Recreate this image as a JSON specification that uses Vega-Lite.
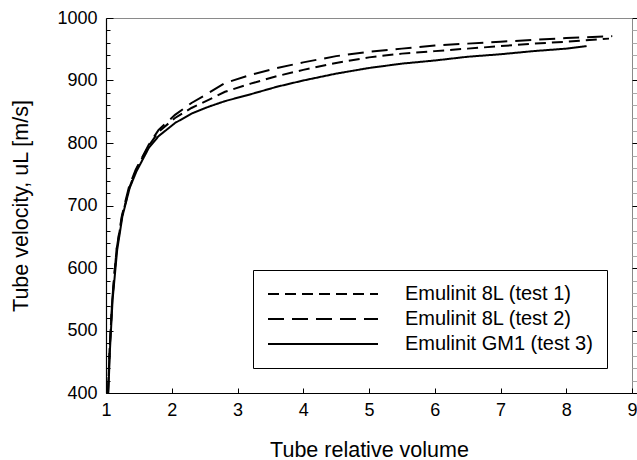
{
  "$schema": "https://vega.github.io/schema/vega-lite/v6.json",
  "width": 526,
  "height": 375,
  "autosize": {"type": "none"},
  "padding": {"left": 106, "top": 18, "right": 5, "bottom": 67},
  "background": "white",
  "config": {
    "font": "Liberation Sans",
    "view": {"stroke": "#8a8a8a", "strokeWidth": 1},
    "axis": {"grid": false, "domainColor": "black", "tickColor": "black", "labelColor": "black", "titleColor": "black", "labelFont": "Liberation Sans", "titleFont": "Liberation Sans", "titleFontWeight": "normal"}
  },
  "data": {"values": [
    {"s": "Emulinit 8L (test 1)", "v": 1.03, "u": 400},
    {"s": "Emulinit 8L (test 1)", "v": 1.055, "u": 469},
    {"s": "Emulinit 8L (test 1)", "v": 1.095, "u": 549},
    {"s": "Emulinit 8L (test 1)", "v": 1.16, "u": 629},
    {"s": "Emulinit 8L (test 1)", "v": 1.245, "u": 683},
    {"s": "Emulinit 8L (test 1)", "v": 1.36, "u": 730},
    {"s": "Emulinit 8L (test 1)", "v": 1.46, "u": 757},
    {"s": "Emulinit 8L (test 1)", "v": 1.56, "u": 778},
    {"s": "Emulinit 8L (test 1)", "v": 1.66, "u": 797},
    {"s": "Emulinit 8L (test 1)", "v": 1.8, "u": 818},
    {"s": "Emulinit 8L (test 1)", "v": 2.05, "u": 840},
    {"s": "Emulinit 8L (test 1)", "v": 2.3, "u": 856},
    {"s": "Emulinit 8L (test 1)", "v": 2.56, "u": 869},
    {"s": "Emulinit 8L (test 1)", "v": 2.81, "u": 882},
    {"s": "Emulinit 8L (test 1)", "v": 3.2, "u": 895},
    {"s": "Emulinit 8L (test 1)", "v": 3.6, "u": 907},
    {"s": "Emulinit 8L (test 1)", "v": 4.0, "u": 917},
    {"s": "Emulinit 8L (test 1)", "v": 4.5, "u": 928},
    {"s": "Emulinit 8L (test 1)", "v": 5.0, "u": 937},
    {"s": "Emulinit 8L (test 1)", "v": 5.5, "u": 943},
    {"s": "Emulinit 8L (test 1)", "v": 6.0, "u": 947},
    {"s": "Emulinit 8L (test 1)", "v": 6.5, "u": 951},
    {"s": "Emulinit 8L (test 1)", "v": 7.0, "u": 955},
    {"s": "Emulinit 8L (test 1)", "v": 7.5, "u": 959},
    {"s": "Emulinit 8L (test 1)", "v": 8.0, "u": 962},
    {"s": "Emulinit 8L (test 1)", "v": 8.65, "u": 967},
    {"s": "Emulinit 8L (test 2)", "v": 1.03, "u": 400},
    {"s": "Emulinit 8L (test 2)", "v": 1.055, "u": 469},
    {"s": "Emulinit 8L (test 2)", "v": 1.095, "u": 549},
    {"s": "Emulinit 8L (test 2)", "v": 1.16, "u": 629},
    {"s": "Emulinit 8L (test 2)", "v": 1.24, "u": 683},
    {"s": "Emulinit 8L (test 2)", "v": 1.35, "u": 730},
    {"s": "Emulinit 8L (test 2)", "v": 1.45, "u": 757},
    {"s": "Emulinit 8L (test 2)", "v": 1.55, "u": 777},
    {"s": "Emulinit 8L (test 2)", "v": 1.65, "u": 797},
    {"s": "Emulinit 8L (test 2)", "v": 1.8, "u": 821},
    {"s": "Emulinit 8L (test 2)", "v": 2.05, "u": 845},
    {"s": "Emulinit 8L (test 2)", "v": 2.3, "u": 864},
    {"s": "Emulinit 8L (test 2)", "v": 2.56, "u": 880},
    {"s": "Emulinit 8L (test 2)", "v": 2.81, "u": 896},
    {"s": "Emulinit 8L (test 2)", "v": 3.2, "u": 909},
    {"s": "Emulinit 8L (test 2)", "v": 3.6, "u": 920},
    {"s": "Emulinit 8L (test 2)", "v": 4.0, "u": 929},
    {"s": "Emulinit 8L (test 2)", "v": 4.5, "u": 939},
    {"s": "Emulinit 8L (test 2)", "v": 5.0, "u": 946},
    {"s": "Emulinit 8L (test 2)", "v": 5.5, "u": 951},
    {"s": "Emulinit 8L (test 2)", "v": 6.0, "u": 956},
    {"s": "Emulinit 8L (test 2)", "v": 6.5, "u": 959},
    {"s": "Emulinit 8L (test 2)", "v": 7.0, "u": 962},
    {"s": "Emulinit 8L (test 2)", "v": 7.5, "u": 965},
    {"s": "Emulinit 8L (test 2)", "v": 8.0, "u": 968},
    {"s": "Emulinit 8L (test 2)", "v": 8.7, "u": 971},
    {"s": "Emulinit GM1 (test 3)", "v": 1.035, "u": 400},
    {"s": "Emulinit GM1 (test 3)", "v": 1.06, "u": 469},
    {"s": "Emulinit GM1 (test 3)", "v": 1.1, "u": 549},
    {"s": "Emulinit GM1 (test 3)", "v": 1.17, "u": 629},
    {"s": "Emulinit GM1 (test 3)", "v": 1.25, "u": 683},
    {"s": "Emulinit GM1 (test 3)", "v": 1.36, "u": 728},
    {"s": "Emulinit GM1 (test 3)", "v": 1.46, "u": 754},
    {"s": "Emulinit GM1 (test 3)", "v": 1.55, "u": 772},
    {"s": "Emulinit GM1 (test 3)", "v": 1.65, "u": 792},
    {"s": "Emulinit GM1 (test 3)", "v": 1.8, "u": 811},
    {"s": "Emulinit GM1 (test 3)", "v": 2.05, "u": 832},
    {"s": "Emulinit GM1 (test 3)", "v": 2.3, "u": 847},
    {"s": "Emulinit GM1 (test 3)", "v": 2.56, "u": 858},
    {"s": "Emulinit GM1 (test 3)", "v": 2.81, "u": 867},
    {"s": "Emulinit GM1 (test 3)", "v": 3.2, "u": 878},
    {"s": "Emulinit GM1 (test 3)", "v": 3.6, "u": 890},
    {"s": "Emulinit GM1 (test 3)", "v": 4.0, "u": 900},
    {"s": "Emulinit GM1 (test 3)", "v": 4.5, "u": 911},
    {"s": "Emulinit GM1 (test 3)", "v": 5.0, "u": 920},
    {"s": "Emulinit GM1 (test 3)", "v": 5.5, "u": 927},
    {"s": "Emulinit GM1 (test 3)", "v": 6.0, "u": 932},
    {"s": "Emulinit GM1 (test 3)", "v": 6.5, "u": 938},
    {"s": "Emulinit GM1 (test 3)", "v": 7.0, "u": 942},
    {"s": "Emulinit GM1 (test 3)", "v": 7.5, "u": 947},
    {"s": "Emulinit GM1 (test 3)", "v": 8.0, "u": 951},
    {"s": "Emulinit GM1 (test 3)", "v": 8.31, "u": 955}
  ]},
  "layer": [
    {
      "mark": {"type": "line", "color": "black", "strokeWidth": 2, "clip": true},
      "encoding": {
        "x": {"field": "v", "type": "quantitative", "scale": {"domain": [1, 9], "nice": false, "zero": false},
          "axis": {"title": "Tube relative volume", "format": "d", "values": [1, 2, 3, 4, 5, 6, 7, 8, 9], "tickSize": -5, "labelPadding": 13, "labelFontSize": 18, "titleFontSize": 21.5, "titlePadding": 20, "labelFlush": false, "labelOverlap": false, "domainWidth": 1.2}},
        "y": {"field": "u", "type": "quantitative", "scale": {"domain": [400, 1000], "nice": false, "zero": false},
          "axis": {"title": "Tube velocity, uL [m/s]", "format": "d", "values": [400, 420, 440, 460, 480, 500, 520, 540, 560, 580, 600, 620, 640, 660, 680, 700, 720, 740, 760, 780, 800, 820, 840, 860, 880, 900, 920, 940, 960, 980, 1000],
            "labelExpr": "datum.value % 100 === 0 ? datum.label : ''",
            "tickSize": {"condition": {"test": "datum.value % 100 === 0", "value": -7}, "value": -4},
            "labelPadding": 16, "labelFontSize": 18, "titleFontSize": 21.5, "titlePadding": 24, "labelFlush": false, "labelOverlap": false, "domainWidth": 1.2}},
        "strokeDash": {"field": "s", "type": "nominal",
          "scale": {"domain": ["Emulinit 8L (test 1)", "Emulinit 8L (test 2)", "Emulinit GM1 (test 3)"], "range": [[11, 6], [16, 8], [1, 0]]},
          "legend": {"title": null, "orient": "bottom-right", "offset": 25, "strokeColor": "black", "fillColor": "white", "padding": 14, "cornerRadius": 0,
            "symbolType": "M-11,0H11", "symbolSize": 100, "symbolOffset": 46, "symbolStrokeWidth": 2, "symbolStrokeColor": "black", "symbolFillColor": "transparent",
            "labelFontSize": 20, "labelFont": "Liberation Sans", "labelColor": "black", "labelOffset": 72, "rowPadding": 5, "labelLimit": 400,
            "encode": {"symbols": {"update": {"strokeDash": {"signal": "datum.value === 'Emulinit 8L (test 1)' ? [12, 7.4] : datum.value === 'Emulinit 8L (test 2)' ? [23, 15] : [1, 0]"}}}}}}
      }
    },
    {
      "mark": {"type": "line", "opacity": 0},
      "encoding": {
        "x": {"field": "v", "type": "quantitative"},
        "y": {"field": "u", "type": "quantitative",
          "axis": {"orient": "right", "title": null, "labels": false, "domain": false, "values": [400, 420, 440, 460, 480, 500, 520, 540, 560, 580, 600, 620, 640, 660, 680, 700, 720, 740, 760, 780, 800, 820, 840, 860, 880, 900, 920, 940, 960, 980, 1000],
            "tickSize": 5, "tickColor": {"condition": {"test": "datum.value % 100 === 0", "value": "black"}, "value": "#aaaaaa"}}}
      }
    }
  ],
  "resolve": {"axis": {"y": "independent"}}
}
